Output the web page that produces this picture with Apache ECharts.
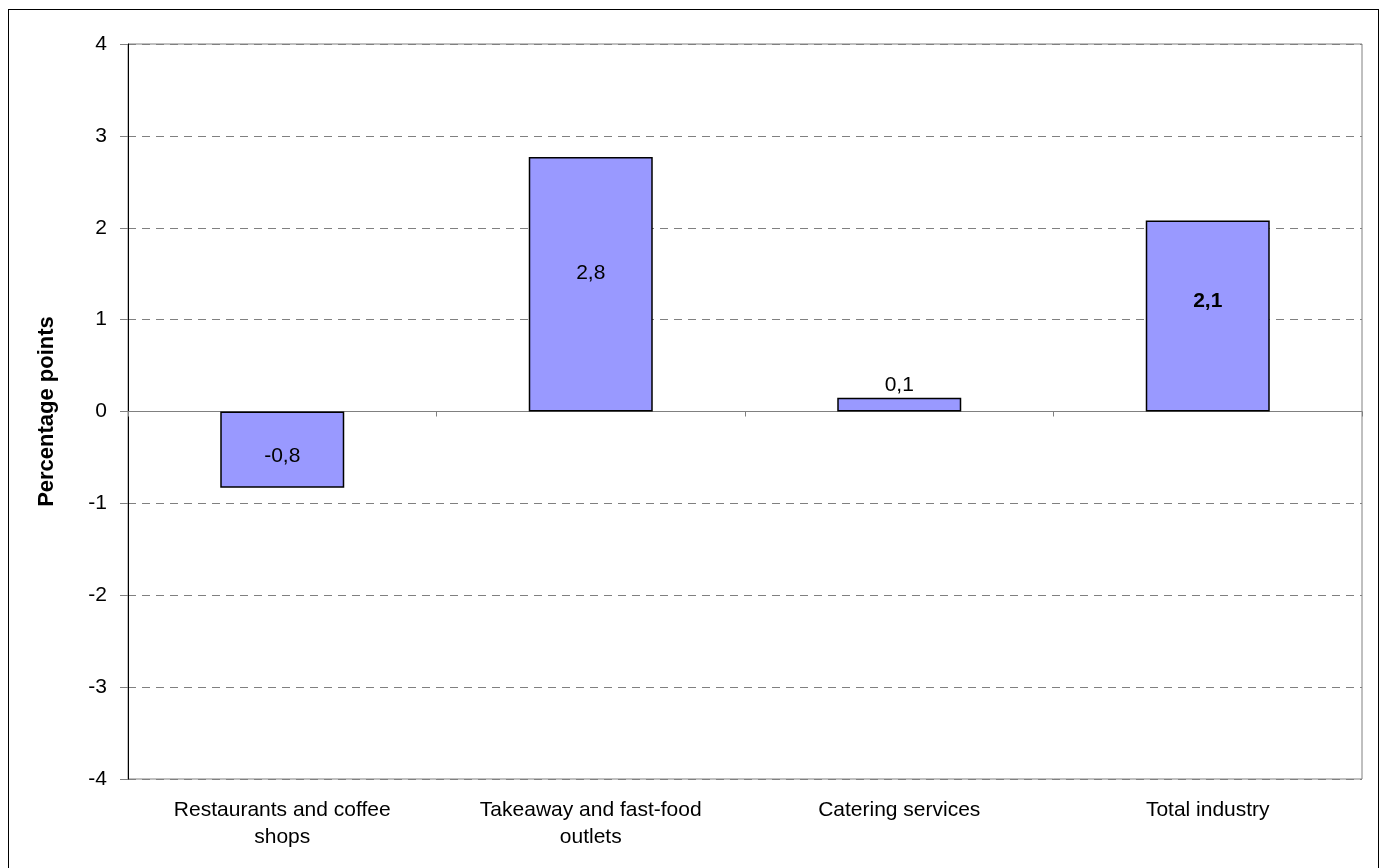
<!DOCTYPE html>
<html>
<head>
<meta charset="utf-8">
<script src="https://cdn.jsdelivr.net/npm/echarts@6/dist/echarts.min.js"></script>
<style>
  html, body { margin: 0; padding: 0; background: #fff; overflow: hidden; }
  #frame { position: absolute; left: 8px; top: 9px; width: 1371px; height: 880px; border: 1.5px solid #000; box-sizing: border-box; }
  #chart { position: absolute; left: 0; top: 0; width: 1385px; height: 868px; }
</style>
</head>
<body>
<div id="frame"></div>
<div id="chart"></div>
<script>
const categories = ['Restaurants and coffee\nshops', 'Takeaway and fast-food\noutlets', 'Catering services', 'Total industry'];
const values = [-0.83, 2.77, 0.15, 2.08];
const yTicks = [-4, -3, -2, -1, 0, 1, 2, 3, 4];

const FONT = 'Liberation Sans, Arial, sans-serif';
const fmt = v => v.toFixed(1).replace('.', ',');
const labelCfg = [
  { position: 'inside', offset: [0, 7] },
  { position: 'inside', offset: [0, -11] },
  { position: 'top', distance: 2 },
  { position: 'inside', offset: [0, -15], fontWeight: 'bold' }
];

const chart = echarts.init(document.getElementById('chart'));
chart.setOption({
  animation: false,
  grid: { left: 128, right: 23, top: 44, bottom: 89, show: true, borderColor: '#808080', borderWidth: 1, backgroundColor: 'transparent' },
  xAxis: [
    {
      type: 'category', data: categories, position: 'bottom',
      axisLine: { show: false, onZero: false }, axisTick: { show: false },
      axisLabel: { color: '#000', fontSize: 21, fontFamily: FONT, lineHeight: 27, margin: 18, interval: 0 }
    },
    {
      type: 'category', data: categories, position: 'bottom',
      axisLine: { show: true, onZero: true, lineStyle: { color: '#808080', width: 1 } },
      axisTick: { show: true, alignWithLabel: false, length: 5, lineStyle: { color: '#808080' } },
      axisLabel: { show: false }
    }
  ],
  yAxis: {
    type: 'value', min: yTicks[0], max: yTicks[yTicks.length - 1], interval: 1,
    name: 'Percentage points', nameLocation: 'middle', nameRotate: 90, nameGap: 70,
    nameTextStyle: { color: '#000', fontSize: 22, fontWeight: 'bold', fontFamily: FONT },
    axisLine: { show: true, lineStyle: { color: '#000', width: 1 } },
    axisTick: { show: true, length: 8, lineStyle: { color: '#808080' } },
    axisLabel: { color: '#000', fontSize: 21, fontFamily: FONT, margin: 21 },
    splitLine: { show: true, lineStyle: { color: '#808080', type: [8, 6], width: 1 } }
  },
  series: [{
    type: 'bar', xAxisIndex: 0, barWidth: 124,
    itemStyle: { color: '#9999FF', borderColor: '#000', borderWidth: 1.5 },
    label: { show: true, color: '#000', fontSize: 21, fontFamily: FONT, formatter: p => fmt(p.value) },
    data: values.map((v, i) => ({ value: v, label: labelCfg[i] }))
  }]
});
</script>
</body>
</html>
